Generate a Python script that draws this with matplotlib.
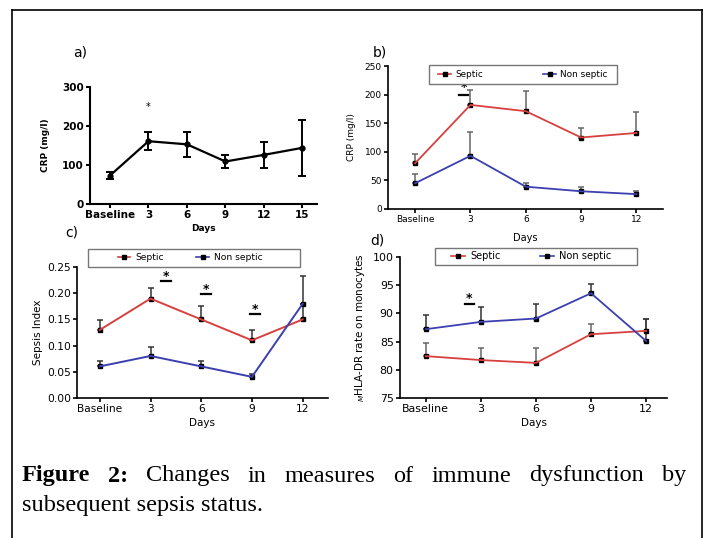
import matplotlib
matplotlib.use("Agg")
import matplotlib.pyplot as plt
from matplotlib.lines import Line2D
from matplotlib.patches import Rectangle

W, H = 710, 538

# ---- data ----
days_a = ["Baseline", "3", "6", "9", "12", "15"]
crp_all = [73, 161, 153, 109, 126, 144]
crp_all_err = [10, 23, 32, 17, 34, 71]

days = ["Baseline", "3", "6", "9", "12"]
crp_septic = [80, 182, 171, 125, 133]
crp_septic_err = [16, 26, 36, 17, 36]
crp_non = [45, 93, 39, 31, 26]
crp_non_err = [17, 42, 7, 8, 6]

si_septic = [0.13, 0.19, 0.15, 0.11, 0.15]
si_septic_err = [0.019, 0.021, 0.025, 0.019, 0.03]
si_non = [0.06, 0.08, 0.06, 0.04, 0.18]
si_non_err = [0.011, 0.018, 0.011, 0.005, 0.053]

hla_septic = [82.4, 81.7, 81.2, 86.3, 86.9]
hla_septic_err = [2.3, 2.2, 2.7, 1.8, 2.2]
hla_non = [87.2, 88.5, 89.1, 93.6, 85.1]
hla_non_err = [2.5, 2.6, 2.5, 1.6, 4.0]

RED = "#d8403f"
BLUE = "#3b3fb0"
ERR = "#666666"

fig = plt.figure(figsize=(W / 100, H / 100), dpi=100)


def rect(l, t, r, b):
    return [l / W, 1 - b / H, (r - l) / W, (b - t) / H]


def style_axes(ax, fs, bold=False, lw=1.2):
    for s in ["top", "right"]:
        ax.spines[s].set_visible(False)
    for s in ["left", "bottom"]:
        ax.spines[s].set_linewidth(lw)
    ax.tick_params(length=3, width=lw, labelsize=fs, pad=1.5)
    if bold:
        for lab in ax.get_xticklabels() + ax.get_yticklabels():
            lab.set_fontweight("bold")


def fig_text(x, y, s, **kw):
    fig.text(x / W, 1 - y / H, s, **kw)


def legend_box(h1, h2, l, t, r, b, fs=7, colsp=4, cx=None):
    # frame drawn by hand, legend entries centred inside it
    fig.add_artist(Rectangle((l / W, 1 - b / H), (r - l) / W, (b - t) / H,
                             transform=fig.transFigure, fill=True, fc="white",
                             ec="#777777", lw=1.0, zorder=5))
    if cx is None:
        cx = (l + r) / 2
    leg = fig.legend([h1, h2], ["Septic", "Non septic"], loc="center",
                     bbox_to_anchor=(cx / W, 1 - (t + b) / 2 / H),
                     bbox_transform=fig.transFigure, ncol=2,
                     fontsize=fs, frameon=False, borderpad=0,
                     handlelength=1.4, handletextpad=0.5, columnspacing=colsp,
                     borderaxespad=0)
    leg.set_zorder(6)
    return leg


def sig(ax, x, y, dx, dy):
    ax.plot([x - dx, x + dx], [y, y], color="black", lw=1.6, clip_on=False)
    ax.text(x, y + dy, "*", ha="center", va="center", fontsize=9, fontweight="bold")


# ---- a) ----
ax = fig.add_axes(rect(90, 87, 317, 204))
xa = range(len(days_a))
ax.errorbar(xa, crp_all, yerr=crp_all_err, color="black", lw=1.6, marker="o", ms=3.5,
            capsize=3, elinewidth=1.4, capthick=1.4)
ax.set_xlim(-0.52, 5.38)
ax.set_ylim(0, 300)
ax.set_xticks(list(xa))
ax.set_xticklabels(days_a)
ax.set_yticks([0, 100, 200, 300])
ax.set_ylabel("CRP (mg/l)", fontsize=6.5, fontweight="bold", labelpad=9)
ax.set_xlabel("Days", fontsize=6.5, fontweight="bold", labelpad=3)
style_axes(ax, 7.5, bold=True, lw=1.5)
ax.text(1, 249, "*", ha="center", va="center", fontsize=7)
fig_text(80, 52, "a)", fontsize=10, ha="center", va="center")

hs = Line2D([], [], color=RED, marker="s", ms=2.5, mfc="black", mec="black", lw=1.2)
hn = Line2D([], [], color=BLUE, marker="s", ms=2.5, mfc="black", mec="black", lw=1.2)

# ---- b) ----
ax = fig.add_axes(rect(388, 66, 663, 209))
x = range(len(days))
ax.errorbar(x, crp_septic, yerr=[[0] * 5, crp_septic_err], color=RED, lw=1.3,
            ecolor=ERR, elinewidth=1.1, capsize=2, capthick=1.1)
ax.errorbar(x, crp_non, yerr=[[0] * 5, crp_non_err], color=BLUE, lw=1.3,
            ecolor=ERR, elinewidth=1.1, capsize=2, capthick=1.1)
ax.plot(x, crp_septic, ls="none", marker="s", ms=2.5, color="black")
ax.plot(x, crp_non, ls="none", marker="s", ms=2.5, color="black")
ax.set_xlim(-0.49, 4.48)
ax.set_ylim(0, 250)
ax.set_xticks(list(x))
ax.set_xticklabels(days)
ax.set_yticks([0, 50, 100, 150, 200, 250])
ax.set_ylabel("CRP (mg/l)", fontsize=6.5, labelpad=6)
ax.set_xlabel("Days", fontsize=7, labelpad=6)
style_axes(ax, 6.5)
legend_box(hs, hn, 429, 65, 617, 84, fs=6.4, colsp=6.8, cx=523)
sig(ax, 0.88, 199, 0.08, 14)
fig_text(380, 52, "b)", fontsize=10, ha="center", va="center")

# ---- c) ----
ax = fig.add_axes(rect(77, 267.3, 328, 397.7))
ax.errorbar(x, si_septic, yerr=[[0] * 5, si_septic_err], color=RED, lw=1.4,
            ecolor="#333333", elinewidth=1.1, capsize=2, capthick=1.1)
ax.errorbar(x, si_non, yerr=[[0] * 5, si_non_err], color=BLUE, lw=1.4,
            ecolor="#333333", elinewidth=1.1, capsize=2, capthick=1.1)
ax.plot(x, si_septic, ls="none", marker="s", ms=2.5, color="black")
ax.plot(x, si_non, ls="none", marker="s", ms=2.5, color="black")
ax.set_xlim(-0.45, 4.5)
ax.set_ylim(0, 0.25)
ax.set_xticks(list(x))
ax.set_xticklabels(days)
ax.set_yticks([0, 0.05, 0.10, 0.15, 0.20, 0.25])
ax.set_yticklabels(["0.00", "0.05", "0.10", "0.15", "0.20", "0.25"])
ax.set_ylabel("Sepsis Index", fontsize=7.5, labelpad=3)
ax.set_xlabel("Days", fontsize=7.5, labelpad=3)
style_axes(ax, 7.7)
legend_box(hs, hn, 88, 249, 300, 266.7, fs=6.6, colsp=3.6, cx=190)
sig(ax, 1.3, 0.224, 0.1, 0.009)
sig(ax, 2.1, 0.199, 0.1, 0.009)
sig(ax, 3.06, 0.160, 0.1, 0.009)
fig_text(72, 233, "c)", fontsize=10, ha="center", va="center")

# ---- d) ----
ax = fig.add_axes(rect(400, 257.3, 667, 397.7))
ax.errorbar(x, hla_septic, yerr=[[0] * 5, hla_septic_err], color=RED, lw=1.3,
            ecolor=ERR, elinewidth=1.1, capsize=2, capthick=1.1)
ax.errorbar(x, hla_non, yerr=[[0] * 5, hla_non_err], color=BLUE, lw=1.3,
            ecolor="#333333", elinewidth=1.1, capsize=2, capthick=1.1)
ax.plot(x, hla_septic, ls="none", marker="s", ms=2.5, color="black")
ax.plot(x, hla_non, ls="none", marker="s", ms=2.5, color="black")
ax.set_xlim(-0.47, 4.38)
ax.set_ylim(75, 100)
ax.set_xticks(list(x))
ax.set_xticklabels(days)
ax.set_yticks([75, 80, 85, 90, 95, 100])
ax.set_ylabel("$_{M}$HLA-DR rate on monocytes", fontsize=7.5, labelpad=4)
ax.set_xlabel("Days", fontsize=7.5, labelpad=3)
style_axes(ax, 7.9)
legend_box(hs, hn, 435, 247.7, 637, 265, fs=7.1, colsp=4.0, cx=531)
sig(ax, 0.79, 91.6, 0.08, 1.0)
fig_text(377, 240, "d)", fontsize=10, ha="center", va="center")

# ---- frame ----
fig.add_artist(Line2D([12 / W, 12 / W], [0, 1 - 10 / H], color="black", lw=1.2))
fig.add_artist(Line2D([702 / W, 702 / W], [0, 1 - 10 / H], color="black", lw=1.2))
fig.add_artist(Line2D([12 / W, 702 / W], [1 - 10 / H, 1 - 10 / H], color="black", lw=1.2))

# ---- caption (justified first line) ----
serif = "Liberation Serif"
cap_fs = 17.5
words = ["Figure", "2:", "Changes", "in", "measures", "of", "immune", "dysfunction", "by"]
texts = []
for i, w in enumerate(words):
    t = fig.text(0, 1 - 476 / H, w, fontsize=cap_fs, family=serif, va="center",
                 fontweight="bold" if i < 2 else "normal")
    texts.append(t)
fig.canvas.draw()
r = fig.canvas.get_renderer()
widths = [t.get_window_extent(r).width for t in texts]
x0, x1 = 22, 686
gap = (x1 - x0 - sum(widths)) / (len(words) - 1)
xp = x0
for t, wd in zip(texts, widths):
    t.set_x(xp / W)
    xp += wd + gap
fig.text(22 / W, 1 - 506 / H, "subsequent sepsis status.", fontsize=cap_fs,
         family=serif, va="center")

fig.savefig("out.png", dpi=100)
